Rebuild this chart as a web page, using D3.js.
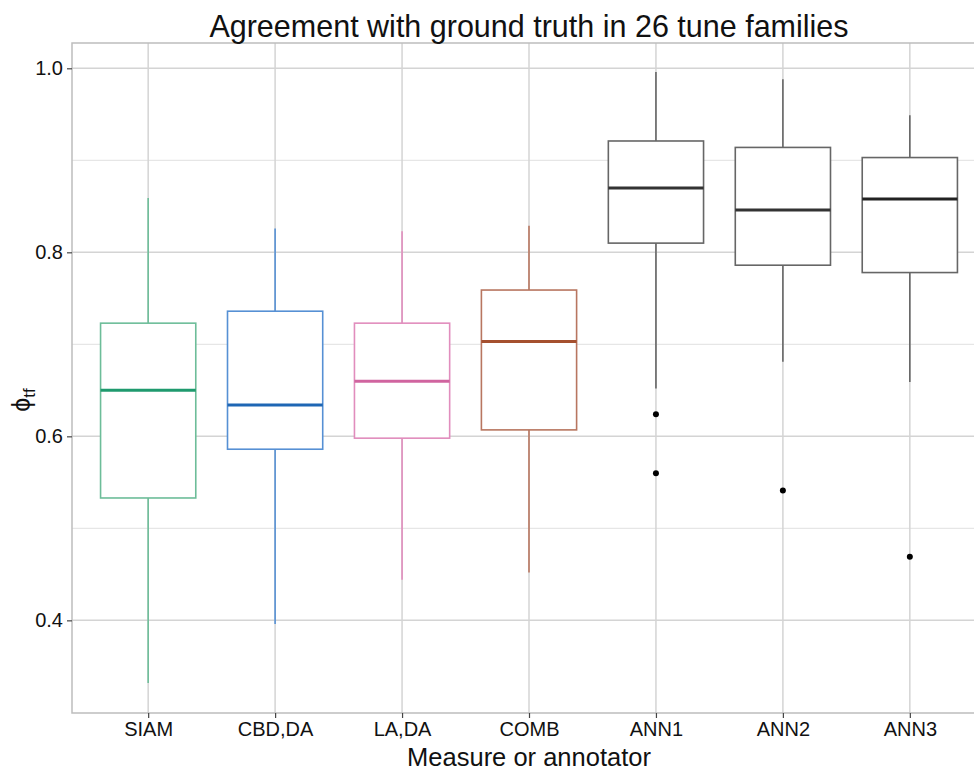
<!DOCTYPE html>
<html>
<head>
<meta charset="utf-8">
<script src="https://cdn.jsdelivr.net/npm/d3@7"></script>
<style>
  body { margin: 0; background: #fff; }
  text { font-family: "Liberation Sans", Arial, sans-serif; }
</style>
</head>
<body>
<div id="chart"></div>
<script>
// box statistics
const categories = ["SIAM", "CBD,DA", "LA,DA", "COMB", "ANN1", "ANN2", "ANN3"]
const whiskerLow = [0.332, 0.396, 0.444, 0.452, 0.652, 0.681, 0.659]
const q1 = [0.533, 0.586, 0.598, 0.607, 0.810, 0.786, 0.778]
const median = [0.650, 0.634, 0.660, 0.703, 0.870, 0.846, 0.858]
const q3 = [0.723, 0.736, 0.723, 0.759, 0.921, 0.914, 0.903]
const whiskerHigh = [0.859, 0.826, 0.823, 0.829, 0.996, 0.988, 0.949]
const outliers = [
  { cat: "ANN1", value: 0.624 },
  { cat: "ANN1", value: 0.560 },
  { cat: "ANN2", value: 0.541 },
  { cat: "ANN3", value: 0.469 }
]
const yTicks = [0.4, 0.6, 0.8, 1.0]
const yMinor = [0.5, 0.7, 0.9]

const lineColors = ["#6dbd99", "#5690d4", "#e18dbd", "#b87660", "#666666", "#666666", "#666666"]
const medianColors = ["#1f9a6e", "#1e66b4", "#d0649f", "#a5502f", "#333333", "#333333", "#222222"]

const width = 974, height = 774
const panelLeft = 72, panelTop = 43, panelBottom = 713
const panelRight = 986

let svg = d3.select('#chart')
  .append('svg')
  .attr('width', width)
  .attr('height', height)

let x = d3.scalePoint()
  .domain(categories)
  .range([panelLeft, panelRight])
  .padding(0.6)

let step = x.step()
let boxW = step * 0.75

let y = d3.scaleLinear()
  .domain([0.2993, 1.0275])
  .range([panelBottom, panelTop])

// grid
let grid = svg.append('g')
grid.selectAll('.minor')
  .data(yMinor)
  .enter()
  .append('line')
  .attr('x1', panelLeft).attr('x2', panelRight)
  .attr('y1', d => y(d)).attr('y2', d => y(d))
  .attr('stroke', '#e6e6e6')
  .attr('stroke-width', 1.2)

grid.selectAll('.major')
  .data(yTicks)
  .enter()
  .append('line')
  .attr('x1', panelLeft).attr('x2', panelRight)
  .attr('y1', d => y(d)).attr('y2', d => y(d))
  .attr('stroke', '#d4d4d4')
  .attr('stroke-width', 1.5)

grid.selectAll('.vert')
  .data(categories)
  .enter()
  .append('line')
  .attr('x1', d => x(d)).attr('x2', d => x(d))
  .attr('y1', panelTop).attr('y2', panelBottom)
  .attr('stroke', '#d4d4d4')
  .attr('stroke-width', 1.5)

// panel border
svg.append('rect')
  .attr('x', panelLeft).attr('y', panelTop)
  .attr('width', panelRight - panelLeft).attr('height', panelBottom - panelTop)
  .attr('fill', 'none')
  .attr('stroke', '#bdbdbd')
  .attr('stroke-width', 1.5)

// boxes
let boxes = svg.selectAll('.box')
  .data(categories)
  .enter()
  .append('g')

boxes.append('line')
  .attr('x1', d => x(d)).attr('x2', d => x(d))
  .attr('y1', (d, i) => y(whiskerHigh[i]))
  .attr('y2', (d, i) => y(q3[i]))
  .attr('stroke', (d, i) => lineColors[i])
  .attr('stroke-width', 1.6)

boxes.append('line')
  .attr('x1', d => x(d)).attr('x2', d => x(d))
  .attr('y1', (d, i) => y(q1[i]))
  .attr('y2', (d, i) => y(whiskerLow[i]))
  .attr('stroke', (d, i) => lineColors[i])
  .attr('stroke-width', 1.6)

boxes.append('rect')
  .attr('x', d => x(d) - boxW / 2)
  .attr('y', (d, i) => y(q3[i]))
  .attr('width', boxW)
  .attr('height', (d, i) => y(q1[i]) - y(q3[i]))
  .attr('fill', '#fff')
  .attr('stroke', (d, i) => lineColors[i])
  .attr('stroke-width', 1.6)

boxes.append('line')
  .attr('x1', d => x(d) - boxW / 2).attr('x2', d => x(d) + boxW / 2)
  .attr('y1', (d, i) => y(median[i]))
  .attr('y2', (d, i) => y(median[i]))
  .attr('stroke', (d, i) => medianColors[i])
  .attr('stroke-width', 3)

svg.selectAll('.outlier')
  .data(outliers)
  .enter()
  .append('circle')
  .attr('cx', d => x(d.cat))
  .attr('cy', d => y(d.value))
  .attr('r', 3)
  .attr('fill', '#000')

// axes
let yAxis = svg.append('g')
  .attr('transform', `translate(${panelLeft},0)`)
  .call(d3.axisLeft(y).tickValues(yTicks).tickFormat(d3.format('.1f')).tickSize(5).tickPadding(4))
yAxis.select('.domain').remove()
yAxis.selectAll('line').attr('stroke', '#444').attr('stroke-width', 1.2)
yAxis.selectAll('text').attr('fill', '#111').style('font-size', '20px')

let xAxis = svg.append('g')
  .attr('transform', `translate(0,${panelBottom})`)
  .call(d3.axisBottom(x).tickSize(5).tickPadding(4))
xAxis.select('.domain').remove()
xAxis.selectAll('line').attr('stroke', '#444').attr('stroke-width', 1.2)
xAxis.selectAll('text').attr('fill', '#111').style('font-size', '20px')

// titles
svg.append('text')
  .attr('x', (panelLeft + panelRight) / 2)
  .attr('y', 37)
  .attr('text-anchor', 'middle')
  .style('font-size', '30.5px')
  .attr('fill', '#111')
  .text('Agreement with ground truth in 26 tune families')

svg.append('text')
  .attr('x', (panelLeft + panelRight) / 2)
  .attr('y', 766)
  .attr('text-anchor', 'middle')
  .style('font-size', '25.5px')
  .attr('fill', '#111')
  .text('Measure or annotator')

let yt = svg.append('text')
  .attr('transform', 'translate(30,400) rotate(-90)')
  .attr('text-anchor', 'middle')
  .attr('fill', '#111')
  .style('font-size', '25px')
yt.append('tspan').text('\u03D5')
yt.append('tspan').attr('dy', 5).style('font-size', '17px').text('tf')
</script>
</body>
</html>
